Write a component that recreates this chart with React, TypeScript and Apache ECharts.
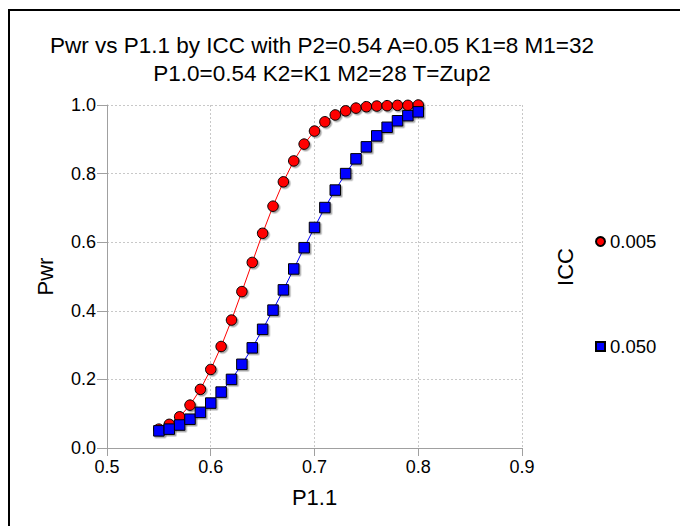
import React, { useEffect, useRef } from "react";
import * as echarts from "echarts";

const titleLines = ["Pwr vs P1.1 by ICC with P2=0.54 A=0.05 K1=8 M1=32", "P1.0=0.54 K2=K1 M2=28 T=Zup2"];
const xTitle = "P1.1";
const yTitle = "Pwr";
const legendTitle = "ICC";
const p11 = [0.55, 0.56, 0.57, 0.58, 0.59, 0.60, 0.61, 0.62, 0.63, 0.64, 0.65, 0.66, 0.67, 0.68, 0.69, 0.70, 0.71, 0.72, 0.73, 0.74, 0.75, 0.76, 0.77, 0.78, 0.79, 0.80];
const icc005Name = "0.005";
const icc005 = [0.055, 0.069, 0.091, 0.125, 0.171, 0.229, 0.296, 0.373, 0.456, 0.541, 0.626, 0.705, 0.776, 0.837, 0.886, 0.924, 0.951, 0.971, 0.983, 0.991, 0.995, 0.997, 0.998, 0.999, 0.999, 1.0];
const icc050Name = "0.050";
const icc050 = [0.050, 0.055, 0.067, 0.084, 0.104, 0.131, 0.163, 0.200, 0.244, 0.292, 0.346, 0.402, 0.461, 0.522, 0.584, 0.643, 0.701, 0.752, 0.800, 0.843, 0.878, 0.910, 0.935, 0.954, 0.969, 0.980];

const FONT = "'Liberation Sans', Arial, sans-serif";

export default function App() {
  const ref = useRef<HTMLDivElement>(null);
  useEffect(() => {
    if (!ref.current) return;
    const chart = echarts.init(ref.current, null, { renderer: "svg" });
    const shadow = { shadowColor: "rgba(0,0,0,0.35)", shadowBlur: 0, shadowOffsetX: 1.5, shadowOffsetY: 1.5 };
    const legendBase = {
      orient: "vertical",
      left: 595,
      padding: 0,
      itemWidth: 9,
      itemHeight: 9,
      itemGap: 5,
      textStyle: { fontFamily: FONT, fontSize: 18.5, color: "#000" },
      selectedMode: false,
    };
    chart.setOption({
      animation: false,
      backgroundColor: "#ffffff",
      textStyle: { fontFamily: FONT },
      title: {
        text: titleLines.join("\n"),
        left: 317,
        top: 26,
        textAlign: "center",
        textStyle: { fontFamily: FONT, fontSize: 22.5, fontWeight: "normal", color: "#000", lineHeight: 28 },
      },
      grid: { left: 107, right: 158, top: 105, bottom: 78, containLabel: false },
      legend: [
        { ...legendBase, data: [{ name: icc005Name, icon: "circle" }], top: 232 },
        { ...legendBase, data: [{ name: icc050Name, icon: "rect" }], top: 337 },
      ],
      xAxis: {
        type: "value",
        min: 0.5,
        max: 0.9,
        interval: 0.1,
        name: xTitle,
        nameLocation: "middle",
        nameGap: 38,
        nameTextStyle: { fontFamily: FONT, fontSize: 22, color: "#000" },
        axisLine: { show: true, lineStyle: { color: "#a0a0a0", width: 1 } },
        axisTick: { show: true, length: 8, lineStyle: { color: "#a0a0a0" } },
        axisLabel: { formatter: (v: number) => v.toFixed(1), fontFamily: FONT, fontSize: 18, color: "#000", margin: 10 },
        splitLine: { show: true, lineStyle: { color: "#c8c8c8", type: [2, 2], width: 1 } },
      },
      yAxis: {
        type: "value",
        min: 0,
        max: 1,
        interval: 0.2,
        name: yTitle,
        nameLocation: "middle",
        nameGap: 51,
        nameRotate: 90,
        nameTextStyle: { fontFamily: FONT, fontSize: 22, color: "#000" },
        axisLine: { show: true, lineStyle: { color: "#a0a0a0", width: 1 } },
        axisTick: { show: true, length: 10, lineStyle: { color: "#a0a0a0" } },
        axisLabel: { formatter: (v: number) => v.toFixed(1), fontFamily: FONT, fontSize: 18, color: "#000", margin: 11 },
        splitLine: { show: true, lineStyle: { color: "#c8c8c8", type: [2, 2], width: 1 } },
      },
      graphic: [
        {
          type: "rect",
          shape: { x: 9, y: 10, width: 700, height: 560 },
          style: { fill: "none", stroke: "#000", lineWidth: 2 },
          silent: true,
        },
        {
          type: "text",
          x: 565,
          y: 267,
          rotation: Math.PI / 2,
          style: { text: legendTitle, fontFamily: FONT, fontSize: 22, fill: "#000", align: "center", verticalAlign: "middle" },
        },
      ],
      series: [
        {
          name: icc005Name,
          type: "line",
          data: p11.map((x, i) => [x, icc005[i]]),
          symbol: "circle",
          symbolSize: 10.5,
          lineStyle: { color: "#ff0000", width: 1 },
          itemStyle: { color: "#ff0000", borderColor: "#000", borderWidth: 1, ...shadow },
        },
        {
          name: icc050Name,
          type: "line",
          data: p11.map((x, i) => [x, icc050[i]]),
          symbol: "rect",
          symbolSize: 10.5,
          lineStyle: { color: "#0000ff", width: 1 },
          itemStyle: { color: "#0000ff", borderColor: "#000", borderWidth: 1, ...shadow },
        },
      ],
    });
    return () => chart.dispose();
  }, []);
  return <div ref={ref} style={{ width: 680, height: 526, position: "absolute", left: 0, top: 0 }} />;
}
